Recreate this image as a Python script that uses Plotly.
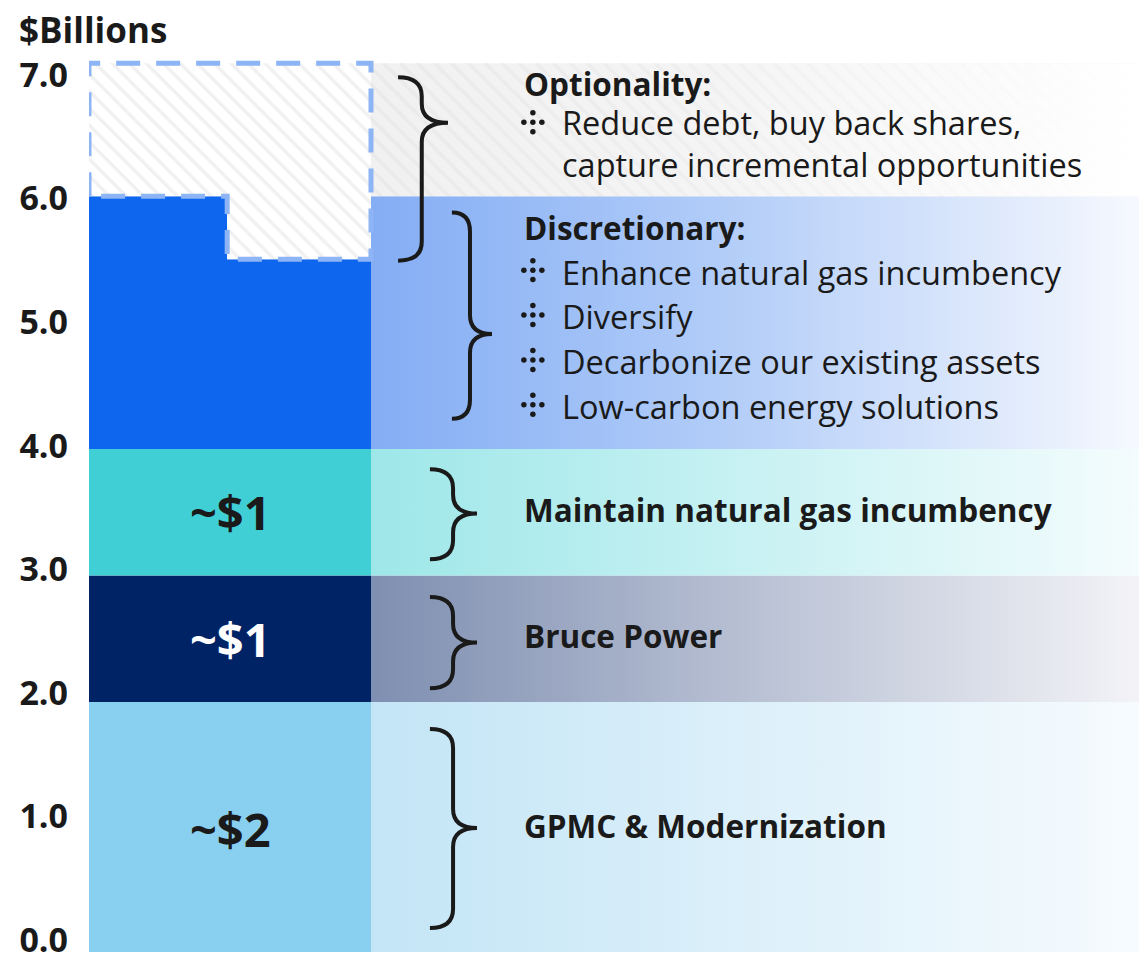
import plotly.graph_objects as go

# ---------------- dados ----------------
base_labels = ["~$2", "~$1", "~$1"]
base_low = [0.0, 2.0, 3.0]
base_high = [2.0, 3.0, 4.0]
base_colors = ["#89cff0", "#002366", "#41cfd6"]
base_text_colors = ["#1a1a1a", "#ffffff", "#1a1a1a"]

disc_low = 4.0
disc_high_left = 6.0
disc_high_right = 5.5
disc_color = "#0f66ee"
opt_high = 7.05

panel_titles = ["GPMC & Modernization", "Bruce Power", "Maintain natural gas incumbency"]
panel_colors = [("#c3e5f6", "#f6fbfe"), ("#7f8fb1", "#f3f3f7"), ("#9ee7e9", "#f4fcfd")]
disc_title = "Discretionary:"
disc_items = ["Enhance natural gas incumbency", "Diversify",
              "Decarbonize our existing assets", "Low-carbon energy solutions"]
opt_title = "Optionality:"
opt_items = ["Reduce debt, buy back shares,", "capture incremental opportunities"]

y_ticks = [0, 1, 2, 3, 4, 5, 6, 7]

# ---------------- constantes de layout ----------------
# a página tem 8px de margem no body, por isso a figura é 16px menor
FIG_W, FIG_H = 1131, 944
M_L, M_T = 81, 49
X_MAX = (FIG_W - M_L) / 282      # 1 unidade = largura da barra (282px)
SPLIT = 0.49                     # degrau da barra discricionária
TXT_X = 1.535
ITEM_X = 1.67
BUL_X = 1.574
FONT = "Open Sans"
INK = "#1a1a1a"
BOLD_SIZE = 31.5
TXT_SIZE = 32.5

fig = go.Figure()

# painéis com gradiente
for lo, hi, (c0, c1) in zip(base_low, base_high, panel_colors):
    fig.add_trace(go.Scatter(
        x=[1, X_MAX, X_MAX, 1, 1], y=[lo, lo, hi, hi, lo],
        mode="lines", line=dict(width=0), fill="toself",
        fillgradient=dict(type="horizontal", start=1, stop=X_MAX, colorscale=[[0, c0], [1, c1]]),
        hoverinfo="skip", showlegend=False))

fig.add_trace(go.Scatter(
    x=[1, X_MAX, X_MAX, 1, 1], y=[disc_low, disc_low, disc_high_left, disc_high_left, disc_low],
    mode="lines", line=dict(width=0), fill="toself",
    fillgradient=dict(type="horizontal", start=1, stop=X_MAX,
                      colorscale=[[0, "#84adf4"], [0.45, "#b1ccf8"], [0.85, "#e3ecfc"], [1, "#f6f9ff"]]),
    hoverinfo="skip", showlegend=False))

# painel de opcionalidade (hachurado + desvanecimento)
fig.add_trace(go.Scatter(
    x=[1, X_MAX, X_MAX, 1, 1], y=[disc_high_left, disc_high_left, opt_high, opt_high, disc_high_left],
    mode="lines", line=dict(width=0), fill="toself", fillcolor="#efefef",
    fillpattern=dict(shape="\\", fgcolor="#e3e3e3", bgcolor="#f1f1f1", size=12, solidity=0.3),
    hoverinfo="skip", showlegend=False))
fig.add_trace(go.Scatter(
    x=[1, X_MAX, X_MAX, 1, 1], y=[disc_high_left, disc_high_left, opt_high, opt_high, disc_high_left],
    mode="lines", line=dict(width=0), fill="toself",
    fillgradient=dict(type="horizontal", start=1, stop=X_MAX,
                      colorscale=[[0, "rgba(255,255,255,0)"], [0.45, "rgba(255,255,255,0.25)"],
                                  [1, "rgba(255,255,255,1)"]]),
    hoverinfo="skip", showlegend=False))

# barras (parte discricionária: barra inteira até 5.5 + metade esquerda até 6.0)
bx = [0.5] * len(base_low) + [0.5, SPLIT / 2]
bw = [1.0] * len(base_low) + [1.0, SPLIT]
bbase = base_low + [disc_low, disc_low]
by = [h - l for l, h in zip(base_low, base_high)] + [disc_high_right - disc_low, disc_high_left - disc_low]
bcol = base_colors + [disc_color, disc_color]
fig.add_trace(go.Bar(x=bx, y=by, base=bbase, width=bw, marker=dict(color=bcol, line=dict(width=0)),
                     hoverinfo="skip", showlegend=False))

# área hachurada tracejada
hx = [0, 0, 1, 1, SPLIT, SPLIT, 0]
hy = [disc_high_left, opt_high, opt_high, disc_high_right, disc_high_right, disc_high_left, disc_high_left]
fig.add_trace(go.Scatter(
    x=hx, y=hy, mode="lines", fill="toself", fillcolor="white",
    fillpattern=dict(shape="\\", fgcolor="#e4e4e4", bgcolor="#ffffff", size=12, solidity=0.3),
    line=dict(color="#8db4f4", width=5, dash="24px,16px"),
    hoverinfo="skip", showlegend=False))

# eixo de rótulos
fig.add_trace(go.Scatter(x=[0], y=[0], yaxis="y2", mode="markers", marker=dict(opacity=0),
                         hoverinfo="skip", showlegend=False))

# chaves
def brace(x0, xm, x1, ytop, ytip, ybot, r=0.15):
    return (f"M {x0},{ytop} Q {xm},{ytop} {xm},{ytop - r} L {xm},{ytip + r} "
            f"Q {xm},{ytip} {x1},{ytip} Q {xm},{ytip} {xm},{ytip - r} "
            f"L {xm},{ybot + r} Q {xm},{ybot} {x0},{ybot}")

braces = [
    (1.209, 1.291, 1.376, 1.787, 1.004, 0.213),
    (1.209, 1.291, 1.376, 2.83, 2.47, 2.11),
    (1.209, 1.291, 1.376, 3.84, 3.49, 3.13),
    (1.287, 1.351, 1.429, 5.87, 4.91, 4.24),
    (1.096, 1.18, 1.273, 6.94, 6.58, 5.49),
]
for b in braces:
    fig.add_shape(type="path", xref="x", yref="y", path=brace(*b),
                  line=dict(color=INK, width=4))

ann = []
# rótulos nas barras
for lab, lo, hi, tc in zip(base_labels, base_low, base_high, base_text_colors):
    ann.append(dict(x=0.5, y=(lo + hi) / 2, text=lab, showarrow=False,
                    font=dict(family=FONT, size=47, color=tc, weight="bold")))
# títulos dos painéis
for t, lo, hi in zip(panel_titles, base_low, base_high):
    ann.append(dict(x=TXT_X, y=(lo + hi) / 2, yshift=3, text=t, showarrow=False, xanchor="left",
                    font=dict(family=FONT, size=BOLD_SIZE, color=INK, weight="bold")))

bullet_y = []
ann.append(dict(x=TXT_X, y=5.75, text=disc_title, showarrow=False, xanchor="left",
                font=dict(family=FONT, size=BOLD_SIZE, color=INK, weight="bold")))
for i, it in enumerate(disc_items):
    yy = 5.40 - i * 0.355
    bullet_y.append(yy)
    ann.append(dict(x=ITEM_X, y=yy, text=it, showarrow=False, xanchor="left",
                    font=dict(family=FONT, size=TXT_SIZE, color=INK)))

ann.append(dict(x=TXT_X, y=6.89, text=opt_title, showarrow=False, xanchor="left",
                font=dict(family=FONT, size=BOLD_SIZE, color=INK, weight="bold")))
bullet_y.append(6.57)
ann.append(dict(x=ITEM_X, y=6.42, text="<br>".join(opt_items), showarrow=False,
                xanchor="left", align="left",
                font=dict(family=FONT, size=TXT_SIZE, color=INK)))

# marcadores de cinco pontos em cruz
dx, dy = 9 / 282, 9.5 / 126.5
px, py = [], []
for yy in bullet_y:
    yy += 0.015
    for ox, oy in [(0, 0), (-dx, 0), (dx, 0), (0, dy), (0, -dy)]:
        px.append(BUL_X + ox)
        py.append(yy + oy)
fig.add_trace(go.Scatter(x=px, y=py, mode="markers", marker=dict(size=5.5, color=INK),
                         hoverinfo="skip", showlegend=False))

ann.append(dict(xref="paper", yref="paper", x=(9 - M_L) / (FIG_W - M_L), y=1 + 28 / (FIG_H - M_T),
                text="$Billions", showarrow=False, xanchor="left", yanchor="middle",
                font=dict(family=FONT, size=35, color=INK, weight="bold")))

fig.update_layout(
    width=FIG_W, height=FIG_H,
    margin=dict(l=M_L, r=0, t=M_T, b=0, autoexpand=False),
    plot_bgcolor="white", paper_bgcolor="white",
    barmode="overlay", showlegend=False,
    annotations=ann,
    xaxis=dict(range=[0, X_MAX], visible=False, fixedrange=True),
    yaxis=dict(range=[0.024, 7.1], visible=False, fixedrange=True),
    yaxis2=dict(range=[-0.0971, 7.1457], overlaying="y", side="left", automargin=False,
                tickvals=y_ticks, ticktext=[f"{v:.1f}" for v in y_ticks],
                showgrid=False, zeroline=False, showline=False, ticks="",
                ticklabelstandoff=20, ticklabeloverflow="allow", fixedrange=True,
                tickfont=dict(family=FONT, size=34, color=INK, weight="bold")),
)

fig.write_html("out.html")
